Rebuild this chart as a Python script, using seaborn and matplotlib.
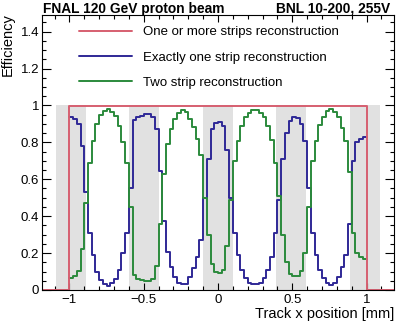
import numpy as np
import pandas as pd
import matplotlib
matplotlib.use("Agg")
import matplotlib.pyplot as plt
import seaborn as sns
from matplotlib.ticker import MultipleLocator, FixedLocator, FixedFormatter

# ---------------- data ----------------
# 80 bins of 0.025 mm between -1 and 1 mm
blue_one_strip = [
    0.938, 0.929, 0.897, 0.78, 0.53, 0.31, 0.19, 0.10, 0.054, 0.031,
    0.024, 0.036, 0.06, 0.11, 0.20, 0.31, 0.55, 0.92, 0.94, 0.945,
    0.951, 0.951, 0.938, 0.87, 0.643, 0.372, 0.208, 0.127, 0.073, 0.04,
    0.031, 0.035, 0.073, 0.118, 0.18, 0.27, 0.50, 0.71, 0.87, 0.906,
    0.909, 0.89, 0.76, 0.50, 0.31, 0.19, 0.109, 0.063, 0.04, 0.031,
    0.031, 0.04, 0.063, 0.109, 0.18, 0.31, 0.49, 0.71, 0.85, 0.915,
    0.938, 0.93, 0.897, 0.81, 0.55, 0.31, 0.19, 0.11, 0.063, 0.036,
    0.027, 0.036, 0.07, 0.125, 0.19, 0.36, 0.70, 0.80, 0.82, 0.83,
]
green_two_strip = [
    0.065, 0.075, 0.105, 0.22, 0.47, 0.69, 0.81, 0.897, 0.946, 0.969,
    0.978, 0.966, 0.942, 0.89, 0.80, 0.69, 0.45, 0.08, 0.058, 0.054,
    0.05, 0.05, 0.062, 0.13, 0.36, 0.63, 0.79, 0.875, 0.928, 0.96,
    0.975, 0.965, 0.928, 0.882, 0.82, 0.73, 0.50, 0.30, 0.14, 0.095,
    0.092, 0.11, 0.236, 0.49, 0.697, 0.81, 0.888, 0.935, 0.96, 0.973,
    0.973, 0.96, 0.935, 0.888, 0.815, 0.69, 0.51, 0.30, 0.15, 0.088,
    0.076, 0.076, 0.105, 0.20, 0.45, 0.70, 0.81, 0.895, 0.94, 0.968,
    0.978, 0.966, 0.935, 0.878, 0.81, 0.64, 0.31, 0.20, 0.18, 0.167,
]
red_any = [
    0.998, 0.998, 0.997, 0.998, 0.997, 0.998, 0.998, 0.997, 0.998, 0.998,
    0.997, 0.998, 0.998, 0.998, 0.996, 0.997, 0.998, 0.998, 0.997, 0.998,
    0.998, 0.998, 0.997, 0.998, 0.998, 0.997, 0.998, 0.997, 0.998, 0.998,
    0.998, 0.997, 0.998, 0.998, 0.997, 0.998, 0.997, 0.998, 0.998, 0.997,
    0.998, 0.997, 0.998, 0.998, 0.998, 0.997, 0.998, 0.998, 0.997, 0.998,
    0.998, 0.998, 0.997, 0.998, 0.998, 0.997, 0.998, 0.998, 0.998, 0.997,
    0.998, 0.998, 0.997, 0.998, 0.998, 0.998, 0.997, 0.998, 0.998, 0.997,
    0.998, 0.998, 0.998, 0.997, 0.998, 0.998, 0.997, 0.998, 0.998, 0.998,
]
strip_centers = [-0.99, -0.5, 0.0, 0.49, 0.99]
legend_labels = ["One or more strips reconstruction",
                 "Exactly one strip reconstruction",
                 "Two strip reconstruction"]
x_ticks = [-1.0, -0.5, 0.0, 0.5, 1.0]
x_ticklabels = ["\u22121", "\u22120.5", "0", "0.5", "1"]
y_ticks = [0.0, 0.2, 0.4, 0.6, 0.8, 1.0, 1.2, 1.4]
y_ticklabels = ["0", "0.2", "0.4", "0.6", "0.8", "1", "1.2", "1.4"]
title_left = "FNAL 120 GeV proton beam"
title_right = "BNL 10-200, 255V"
x_label = "Track x position [mm]"
y_label = "Efficiency"

# ---------------- style ----------------
sns.set_theme(style="ticks")
plt.rcParams["font.family"] = ["Liberation Sans", "DejaVu Sans"]
plt.rcParams["text.color"] = "black"
FS = 9.5
plt.rcParams["font.size"] = FS

RED = "#d65f70"
BLUE = "#2f2896"
GREEN = "#2b8a3c"
GRAY = "#e1e1e1"

nb = len(blue_one_strip)
edges = np.linspace(-1.0, 1.0, nb + 1)
centers = 0.5 * (edges[:-1] + edges[1:])
bw = edges[1] - edges[0]
red_edges = np.arange(-1.2, 1.2 + bw / 2, bw)

df = pd.DataFrame({"x": centers, "blue": blue_one_strip,
                   "green": green_two_strip, "red": red_any})

fig = plt.figure(figsize=(4.15, 3.22), dpi=100)
ax = fig.add_axes([42 / 415, 32 / 322, 352 / 415, 275 / 322])

# strip (metal) regions
ax.bar(strip_centers, [1.0] * len(strip_centers), width=0.2, color=GRAY,
       linewidth=0, zorder=0.5)

sns.histplot(data=df, x="x", weights="blue", bins=list(edges), element="step",
             fill=False, color=BLUE, linewidth=1.4, ax=ax, zorder=2)
blue_line = ax.lines[-1]
sns.histplot(data=df, x="x", weights="green", bins=list(edges), element="step",
             fill=False, color=GREEN, linewidth=1.4, ax=ax, zorder=2.1)
green_line = ax.lines[-1]
sns.histplot(data=df, x="x", weights="red", bins=list(red_edges), element="step",
             fill=False, color=RED, linewidth=1.4, ax=ax, zorder=2.2)
red_line = ax.lines[-1]

ax.set_xlim(-1.185, 1.185)
ax.set_ylim(0, 1.49)

ax.xaxis.set_major_locator(FixedLocator(x_ticks))
ax.xaxis.set_major_formatter(FixedFormatter(x_ticklabels))
ax.xaxis.set_minor_locator(MultipleLocator(0.1))
ax.yaxis.set_major_locator(FixedLocator(y_ticks))
ax.yaxis.set_major_formatter(FixedFormatter(y_ticklabels))
ax.yaxis.set_minor_locator(MultipleLocator(0.05))

ax.tick_params(which="both", direction="in", top=True, right=True,
               width=0.8, color="black", labelsize=FS, labelcolor="black")
ax.tick_params(axis="x", which="major", length=5.2, pad=3)
ax.tick_params(axis="x", which="minor", length=2.6)
ax.tick_params(axis="y", which="major", length=6.5, pad=2)
ax.tick_params(axis="y", which="minor", length=3.2)
for s in ax.spines.values():
    s.set_color("black")
    s.set_linewidth(0.8)

ax.set_xlabel(x_label, loc="right", fontsize=10.5, color="black")
ax.xaxis.set_label_coords(1.0, -0.063)
ax.set_ylabel(y_label, loc="top", fontsize=10.5, color="black")
ax.yaxis.set_label_coords(-0.077, 1.0 + 2 / 275)

ax.text(0.003, 1.0 + 2.5 / 275, title_left, transform=ax.transAxes,
        ha="left", va="baseline", fontweight="bold", fontsize=9.9, color="black")
ax.text(0.9886, 1.0 + 2.5 / 275, title_right, transform=ax.transAxes,
        ha="right", va="baseline", fontweight="bold", fontsize=9.9, color="black")

ax.legend([red_line, blue_line, green_line], legend_labels,
          loc="upper left", bbox_to_anchor=((79 - 42) / 352, 1 - (26 - 15) / 275),
          frameon=False, handlelength=4.0, handletextpad=0.85,
          labelspacing=1.0, borderpad=0, borderaxespad=0, fontsize=FS,
          labelcolor="black")

fig.savefig("out.png", dpi=100, facecolor="white")
